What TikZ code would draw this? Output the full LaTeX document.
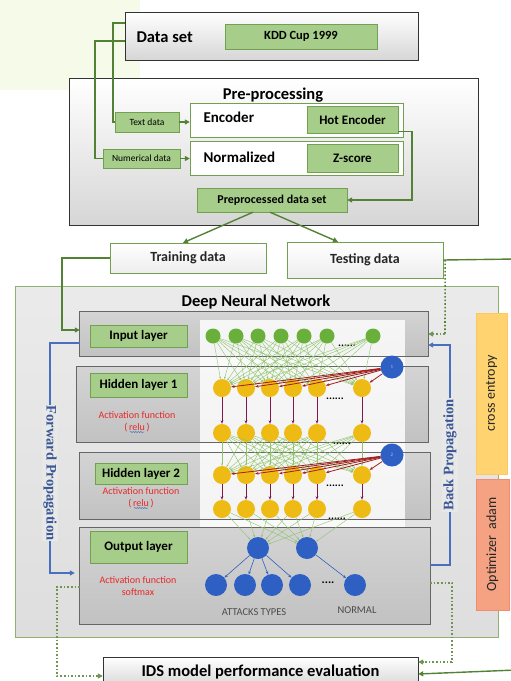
\documentclass[tikz,border=0pt]{standalone}
\usepackage{fontspec}
\setmainfont{Carlito}
\newfontfamily\propfont{Liberation Serif}
\usetikzlibrary{arrows.meta,positioning,calc,decorations.pathmorphing}
\definecolor{mGreen}{RGB}{84,130,53}
\definecolor{mBoxGreen}{RGB}{166,206,138}
\definecolor{mBoxEdge}{RGB}{112,160,80}
\definecolor{mBlue}{RGB}{72,112,190}
\definecolor{mProp}{RGB}{58,88,150}
\definecolor{mNeuronG}{RGB}{104,176,58}
\definecolor{mNeuronY}{RGB}{238,186,20}
\definecolor{mNeuronB}{RGB}{46,96,196}
\definecolor{mBias}{RGB}{160,30,30}
\definecolor{mRedText}{RGB}{232,40,40}
\definecolor{mHighlight}{RGB}{245,251,232}
\definecolor{mEntropy}{RGB}{255,212,112}
\definecolor{mAdam}{RGB}{245,162,130}
\newcommand{\fsz}[1]{\fontsize{#1}{#1}\selectfont}

\begin{document}
\begin{tikzpicture}[x=1pt, y=-1pt,
    greenbox/.style={draw=mBoxEdge, fill=mBoxGreen, inner sep=0pt},
    whitebox/.style={draw=black!80, top color=white, bottom color=black!16, inner sep=0pt},
    framebox/.style={draw=mBoxEdge, fill=white, inner sep=0pt},
    splitbox/.style={draw=mBoxEdge, top color=white, bottom color=black!7, inner sep=0pt,
      font=\bfseries\fsz{14}, text=black!85},
    layerbox/.style={top color=black!17, bottom color=black!24, inner sep=0pt},
    layeredge/.style={draw=black!60, line width=1pt},
    neuron/.style={circle, inner sep=0pt, minimum size=#1},
    syn/.style={mNeuronG!75, line width=0.4pt, -{Stealth[length=2.5pt]}},
    biasline/.style={mBias, line width=0.8pt, -{Stealth[length=3.5pt]}},
    vline/.style={mBias!80!blue, line width=0.6pt, -{Stealth[length=3.5pt]}},
    outline/.style={mNeuronB, line width=0.6pt, -{Stealth[length=3.5pt]}},
    conn/.style={mGreen, line width=1.4pt},
    connarrow/.style={conn, -{Triangle[length=5pt,width=5pt]}},
    dotconn/.style={mGreen!85, line width=1.6pt, dotted, -{Triangle[length=5pt,width=5pt]}},
    prop/.style={mBlue, line width=1.4pt, -{Triangle[length=5pt,width=5pt]}},
    proplabel/.style={font=\propfont\bfseries\fsz{14.5}, text=mProp, fill=black!9, inner sep=1pt},
    actfn/.style={text=mRedText, font=\fsz{10}},
    squiggle/.style={mBlue, line width=0.5pt, decorate,
      decoration={snake, amplitude=0.6pt, segment length=2.5pt}},
    layerlabel/.style={greenbox, font=\bfseries\fsz{13}},
    dots/.style={font=\bfseries\fsz{11}}]

  \useasboundingbox (0,0) rectangle (511,681);
  \fill[white] (0,0) rectangle (511,681);
  % faint highlight left over from the page
  \fill[mHighlight] (0,0) rectangle (140,90);

  % data set
  \node[whitebox, minimum width=293pt, minimum height=48pt] (dataset) at (271.5,36) {};
  \node[anchor=west, font=\bfseries\fsz{16.5}] (datasetlabel) at (133,37) {Data set};
  \node[greenbox, minimum width=152pt, minimum height=25pt, font=\bfseries\fsz{12.5}] (kdd) at (301,36.5) {KDD Cup 1999};

  % pre-processing
  \node[whitebox, minimum width=409pt, minimum height=147pt] (prep) at (273.5,151.5) {};
  \node[font=\bfseries\fsz{16.5}] (preptitle) at (273,95) {Pre-processing};
  \node[framebox, minimum width=213pt, minimum height=34pt] (encoder) at (296.5,120) {};
  \node[anchor=west, font=\bfseries\fsz{15}] (encoderlabel) at (200,117) {Encoder};
  \node[greenbox, minimum width=91pt, minimum height=27pt, font=\bfseries\fsz{13}] (hot) at (352.5,119.5) {Hot Encoder};
  \node[framebox, minimum width=213pt, minimum height=34pt] (normal) at (296.5,158) {};
  \node[anchor=west, font=\bfseries\fsz{15}] (normallabel) at (200,157) {Normalized};
  \node[greenbox, minimum width=91pt, minimum height=28pt, font=\bfseries\fsz{13}] (zscore) at (352.5,158) {Z-score};
  \node[greenbox, minimum width=64pt, minimum height=20pt, font=\fsz{9.5}] (textdata) at (147,122) {Text data};
  \node[greenbox, minimum width=77pt, minimum height=19pt, font=\fsz{9.5}] (numdata) at (141.5,158.5) {Numerical data};
  \node[greenbox, minimum width=150pt, minimum height=24pt, font=\bfseries\fsz{12}] (preset) at (272,200) {Preprocessed data set};

  \draw[conn] ([yshift=13pt]dataset.west) -- (113,23) |- (textdata.west);
  \draw[conn] ([yshift=-5pt]dataset.west) -- (95,41) |- (numdata.west);
  \draw[connarrow] (textdata.east) -- (textdata.east -| encoder.west);
  \draw[connarrow] (numdata.east) -- (numdata.east -| normal.west);
  \draw[connarrow] ([yshift=-12pt]hot.east) -- (412,131.5) |- (preset.east);

  % training and testing
  \node[splitbox, minimum width=156pt, minimum height=30pt] (train) at (188,258) {Training data};
  \node[splitbox, minimum width=156pt, minimum height=36pt] (test) at (365,260) {Testing data};
  \draw[connarrow] ([xshift=-19pt]preset.south) -- ([xshift=-5pt]train.north);
  \draw[connarrow] ([xshift=-2pt]preset.south) -- ([xshift=-27pt]test.north);

  % deep neural network
  \node[draw=mBoxEdge!80, line width=0.8pt, top color=black!8, bottom color=black!13,
    minimum width=483pt, minimum height=351pt] (dnn) at (256.5,461.5) {};
  \node[font=\bfseries\fsz{16.5}] (dnntitle) at (256,302) {Deep Neural Network};
  \node[layerbox, minimum width=348pt, minimum height=44pt] (inbox) at (254,334) {};
  \node[layerbox, minimum width=351pt, minimum height=75pt] (hbox1) at (252.5,404.5) {};
  \node[layerbox, minimum width=350pt, minimum height=66pt] (hbox2) at (255,486) {};
  \node[layerbox, minimum width=350pt, minimum height=96pt] (outbox) at (255,576) {};
  \fill[white, opacity=0.82] (200,320) rectangle (405,527);
  \foreach \b in {inbox,hbox1,hbox2,outbox}
    \draw[layeredge] (\b.south west) rectangle (\b.north east);

  % layer labels
  \node[layerlabel, minimum width=97pt, minimum height=22pt] (inlabel) at (138.5,336) {Input layer};
  \node[layerlabel, minimum width=97pt, minimum height=24pt] (hlabel1) at (138.5,385) {Hidden layer 1};
  \node[actfn] (act1) at (137,415) {Activation function};
  \node[actfn] (relu1) at (137,428) {(\,relu\,)};
  \draw[squiggle] ([xshift=-7pt,yshift=-4pt]relu1.center) -- ([xshift=7pt,yshift=-4pt]relu1.center);
  \node[layerlabel, minimum width=92pt, minimum height=21pt] (hlabel2) at (141,473.5) {Hidden layer 2};
  \node[actfn] (act2) at (141,491) {Activation function};
  \node[actfn] (relu2) at (141,504) {(\,relu\,)};
  \draw[squiggle] ([xshift=-7pt,yshift=-4pt]relu2.center) -- ([xshift=7pt,yshift=-4pt]relu2.center);
  \node[layerlabel, minimum width=97pt, minimum height=32pt] (outlabel) at (138.5,547) {Output layer};
  \node[actfn] (act3) at (138,580) {Activation function};
  \node[actfn] (softmax) at (138,592) {softmax};

  % neurons
  \foreach \x [count=\i] in {213,236,258,281,304,327,373}
    \node[neuron=15pt, fill=mNeuronG] (in\i) at (\x,336) {};
  \foreach \x [count=\i] in {222,246,270,293,317,362} {
    \node[neuron=18pt, fill=mNeuronY] (ha\i) at (\x,388) {};
    \node[neuron=18pt, fill=mNeuronY] (hb\i) at (\x,433) {};
    \node[neuron=18pt, fill=mNeuronY] (hc\i) at (\x,475) {};
    \node[neuron=18pt, fill=mNeuronY] (hd\i) at (\x,509) {};
  }
  \node[neuron=23pt, fill=mNeuronB, text=white!70!blue, font=\fsz{5}] (bias1) at (392,367) {1};
  \node[neuron=23pt, fill=mNeuronB, text=white!70!blue, font=\fsz{5}] (bias2) at (392,455) {2};
  \node[neuron=22pt, fill=mNeuronB] (oa1) at (258,548) {};
  \node[neuron=22pt, fill=mNeuronB] (oa2) at (307,548) {};
  \foreach \x [count=\i] in {216,245,272,300,355}
    \node[neuron=22pt, fill=mNeuronB] (ob\i) at (\x,585) {};
  \node[dots] (dotsin) at (347,346) {......};
  \node[dots] (dotsha) at (335,399) {......};
  \node[dots] (dotshb) at (342,444) {......};
  \node[dots] (dotshc) at (335,486) {......};
  \node[dots] (dotshd) at (337,519) {......};
  \node[font=\bfseries\fsz{12}] (dotsout) at (328,583) {....};
  \node[font=\fsz{10.5}, text=black!70] (attacks) at (254,612) {ATTACKS TYPES};
  \node[font=\fsz{10.5}, text=black!70] (normaltype) at (357,610) {NORMAL};

  % synapses
  \foreach \i in {1,...,7}
    \foreach \j in {1,...,6}
      \draw[syn] (in\i) -- (ha\j);
  \foreach \i in {1,...,6}
    \foreach \j in {1,...,6}
      \draw[syn] (hb\i) -- (hc\j);
  \foreach \i in {1,...,6} {
    \draw[biasline] (bias1) -- (ha\i);
    \draw[biasline] (bias2) -- (hc\i);
    \draw[vline] (ha\i) -- (hb\i);
    \draw[vline] (hc\i) -- (hd\i);
    \draw[syn] (hd\i) -- (oa1);
    \draw[syn] (hd\i) -- (oa2);
  }
  \foreach \j in {1,...,4}
    \draw[outline] (oa1) -- (ob\j);
  \draw[outline] (oa2) -- (ob5);

  % propagation
  \draw[prop, shorten >=5pt] ([yshift=-9pt]inbox.west) -| (50,573) -- ([yshift=3pt]outbox.west);
  \node[proplabel, rotate=-90] (fwdlabel) at (50,473) {Forward Propagation};
  \draw[prop] ([yshift=11pt]outbox.east) -| (450,345) -- ([yshift=-11pt]inbox.east);
  \node[proplabel, rotate=90] (bwdlabel) at (450,455) {Back Propagation};

  % loss and optimizer
  \node[draw=mEntropy!85!orange, fill=mEntropy, minimum width=31pt, minimum height=161pt,
    inner sep=0pt] (entropy) at (491.5,393.5) {};
  \node[rotate=90, font=\fsz{14}, text=black!85] (entropylabel) at (entropy) {cross entropy};
  \node[draw=mAdam!85!red, fill=mAdam, minimum width=33pt, minimum height=131pt,
    inner sep=0pt] (adam) at (492.5,544.5) {};
  \node[rotate=90, font=\fsz{14}, text=black!85] (adamlabel) at (adam) {Optimizer\ \ adam};

  % evaluation
  \node[whitebox, minimum width=315pt, minimum height=30pt, font=\bfseries\fsz{16.5}] (ids) at (260.5,672) {IDS model performance evaluation};
  \draw[connarrow] (train.west) -- (62,258) |- ([yshift=4pt]inbox.west);
  \draw[conn, line width=1.6pt, dotted] ([xshift=2pt]test.east) -- (445,334);
  \draw[dotconn] (445,334) -- (inbox.east);
  \draw[dotconn] ([yshift=-11pt]outbox.west) -- (57,587) |- ([yshift=-4pt]ids.west);
  \draw[dotconn] ([yshift=-7pt]outbox.east) -| (452,662) -- ([yshift=10pt]ids.east);
  \draw[connarrow] (test.east) -- (516,259) -- (516,670) -- ([yshift=-2pt]ids.east);
\end{tikzpicture}
\end{document}
